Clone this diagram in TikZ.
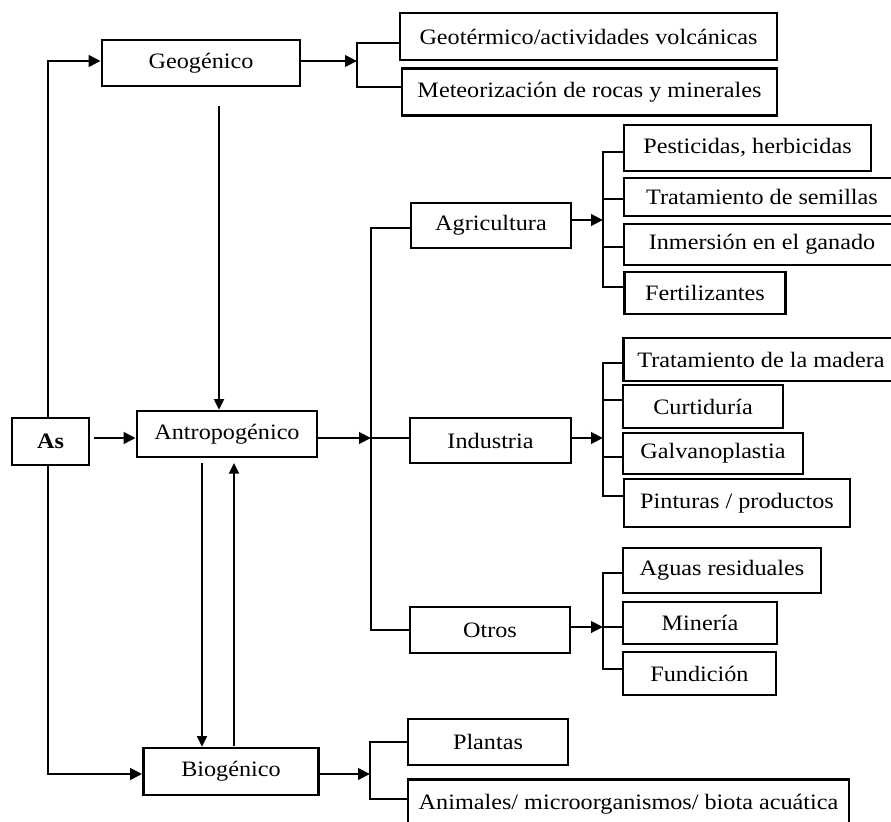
\documentclass[tikz,border=0pt]{standalone}
\usepackage{fontspec}
\setmainfont{Liberation Serif}[FakeStretch=1.1]
\usetikzlibrary{arrows.meta,calc}
\tikzset{
  box/.style={draw, line width=2pt, inner sep=0pt, fill=white, text=black, font=\fontsize{16.5}{18}\selectfont},
  conn/.style={line width=1.8pt},
  arr/.style={line width=2.2pt, -{Triangle[length=9pt,width=8.5pt]}},
  tarr/.style={line width=1.5pt, -{Triangle[length=8pt,width=7.5pt]}}
}
\begin{document}
\begin{tikzpicture}[x=0.75pt,y=-0.75pt]
\useasboundingbox (0,0) rectangle (891,821);
\fill[white] (0,0) rectangle (891,821);
\clip (0,0) rectangle (891,821);

% nodes
\node[box,minimum width=148.5pt,minimum height=34.5pt] (geo) at (201,63) {Geogénico};
\node[box,minimum width=282.75pt,minimum height=35.25pt] (geot) at (588.5,36.5) {Geotérmico/actividades volcánicas};
\node[box,minimum width=281.25pt,minimum height=35.25pt] (meteo) at (589.5,92) {Meteorización de rocas y minerales};
\node[box,minimum width=57.75pt,minimum height=35.25pt,font=\fontsize{16.5}{18}\selectfont\bfseries] (as) at (50.5,441.5) {As};
\node[box,minimum width=135pt,minimum height=34.5pt] (antro) at (227,434) {Antropogénico};
\node[box,minimum width=131.25pt,minimum height=35.25pt] (bio) at (231,771.5) {Biogénico};
\node[box,minimum width=120pt,minimum height=33.75pt] (agri) at (491,225.5) {Agricultura};
\node[box,minimum width=185.25pt,minimum height=34.5pt] (pest) at (747.5,148) {Pesticidas, herbicidas};
\node[box,minimum width=207pt,minimum height=28.5pt] (sem) at (762,197) {Tratamiento de semillas};
\node[box,minimum width=207pt,minimum height=30.75pt] (inm) at (762,244.5) {Inmersión en el ganado};
\node[box,minimum width=120.75pt,minimum height=31.5pt] (fert) at (705,293) {Fertilizantes};
\node[box,minimum width=120.75pt,minimum height=33.75pt] (indu) at (490.5,440.5) {Industria};
\node[box,minimum width=206.25pt,minimum height=32.25pt] (mad) at (761,359.5) {Tratamiento de la madera};
\node[box,minimum width=120pt,minimum height=32.25pt] (curt) at (703,406.5) {Curtiduría};
\node[box,minimum width=135pt,minimum height=30.75pt] (galv) at (713,453.5) {Galvanoplastia};
\node[box,minimum width=169.5pt,minimum height=36pt] (pint) at (737,503) {Pinturas / productos};
\node[box,minimum width=120pt,minimum height=34.5pt] (otros) at (490,630) {Otros};
\node[box,minimum width=148.5pt,minimum height=33.75pt] (aguas) at (722,570.5) {Aguas residuales};
\node[box,minimum width=115.5pt,minimum height=31.5pt] (min) at (700,623) {Minería};
\node[box,minimum width=114.75pt,minimum height=32.25pt] (fund) at (699.5,673.5) {Fundición};
\node[box,minimum width=120pt,minimum height=34.5pt] (plan) at (488,742) {Plantas};
\node[box,minimum width=330.75pt,minimum height=37.5pt,anchor=north] (anim) at (628.5,778) {Animales/ microorganismos/ biota acuática};

% coordinates
\coordinate (lt) at (48,61);
\coordinate (lb) at (48,774);
\coordinate (ya) at (371,438);
\coordinate (gs) at (219,106);
\coordinate (d1) at (202,463);
\coordinate (u1) at (234,746);
\coordinate (mv1) at (371,228);
\coordinate (mv2) at (371,630);
\coordinate (g1) at (357,43);
\coordinate (g2) at (357,87);
\coordinate (gy) at (357,61);
\coordinate (a1) at (603,152);
\coordinate (a2) at (603,199);
\coordinate (a3) at (603,247);
\coordinate (a4) at (603,287);
\coordinate (aa) at (603,220);
\coordinate (i1) at (603,363);
\coordinate (i2) at (603,400);
\coordinate (i3) at (603,457);
\coordinate (i4) at (603,496);
\coordinate (ia) at (603,438);
\coordinate (o1) at (603,573);
\coordinate (o2) at (603,627);
\coordinate (o3) at (603,669);
\coordinate (b1) at (370,742);
\coordinate (b2) at (370,799);
\coordinate (bb) at (370,774);

% left trunk
\draw[arr] (as.north -| lt) -- (lt) -- (geo.west |- lt);
\draw[arr] (as.south -| lb) -- (lb) -- (bio.west |- lb);
\draw[arr] ([xshift=3pt]as.east |- ya) -- (antro.west |- ya);

% vertical relations
\draw[tarr] (gs) -- (antro.north -| gs);
\draw[tarr] (d1) -- (bio.north -| d1);
\draw[tarr, shorten >=3.5pt] (u1) -- (antro.south -| u1);

% anthropogenic spine
\draw[arr] (antro.east |- ya) -- (ya);
\draw[conn] (agri.west |- mv1) -- (mv1) -- (mv2) -- (otros.west |- mv2);
\draw[conn] (ya) -- (indu.west |- ya);

% geogenic bracket
\draw[conn] (geot.west |- g1) -- (g1) -- (g2) -- (meteo.west |- g2);
\draw[arr] (geo.east |- gy) -- (gy);

% agriculture bracket
\draw[conn] (pest.west |- a1) -- (a1) -- (a4) -- (fert.west |- a4);
\draw[conn] (a2) -- (sem.west |- a2);
\draw[conn] (a3) -- (inm.west |- a3);
\draw[arr] (agri.east |- aa) -- (aa);

% industry bracket
\draw[conn] (mad.west |- i1) -- (i1) -- (i4) -- (pint.west |- i4);
\draw[conn] (i2) -- (curt.west |- i2);
\draw[conn] (i3) -- (galv.west |- i3);
\draw[arr] (indu.east |- ia) -- (ia);

% others bracket
\draw[conn] (aguas.west |- o1) -- (o1) -- (o3) -- (fund.west |- o3);
\draw[conn] (o2) -- (min.west |- o2);
\draw[arr] (otros.east |- o2) -- (o2);

% biogenic bracket
\draw[conn] (plan.west |- b1) -- (b1) -- (b2) -- (anim.west |- b2);
\draw[arr] (bio.east |- bb) -- (bb);
\end{tikzpicture}
\end{document}
